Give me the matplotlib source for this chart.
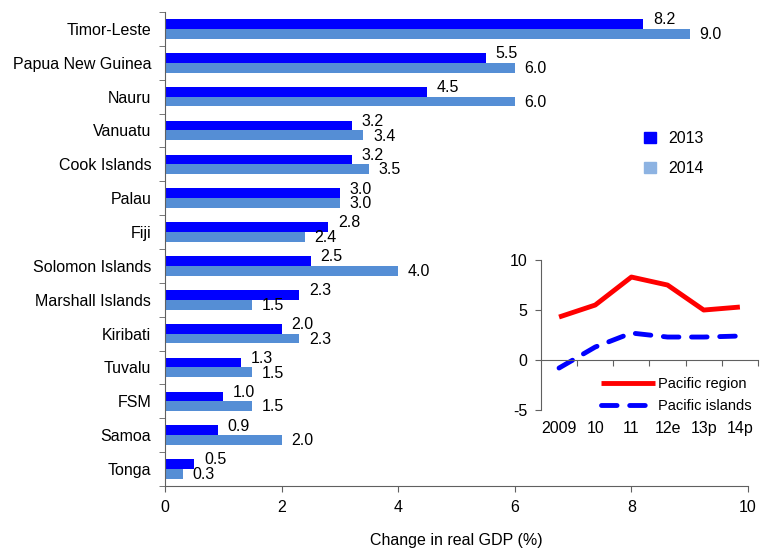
import numpy as np
import matplotlib.pyplot as plt
from matplotlib.patches import Patch

plt.rcParams['font.family'] = ['Liberation Sans', 'DejaVu Sans']
plt.rcParams['font.size'] = 11.5
plt.rcParams['axes.unicode_minus'] = False

countries = ['Timor-Leste', 'Papua New Guinea', 'Nauru', 'Vanuatu', 'Cook Islands',
             'Palau', 'Fiji', 'Solomon Islands', 'Marshall Islands', 'Kiribati',
             'Tuvalu', 'FSM', 'Samoa', 'Tonga']
gdp_2013 = [8.2, 5.5, 4.5, 3.2, 3.2, 3.0, 2.8, 2.5, 2.3, 2.0, 1.3, 1.0, 0.9, 0.5]
gdp_2014 = [9.0, 6.0, 6.0, 3.4, 3.5, 3.0, 2.4, 4.0, 1.5, 2.3, 1.5, 1.5, 2.0, 0.3]

years = ['2009', '10', '11', '12e', '13p', '14p']
pacific_region = [4.3, 5.5, 8.3, 7.5, 5.0, 5.3]
pacific_islands = [-0.8, 1.3, 2.7, 2.3, 2.3, 2.4]

c2013 = '#0000FF'
c2014 = '#558ED5'
axis_grey = '#606060'

fig = plt.figure(figsize=(7.63, 5.5), dpi=100)
ax = fig.add_axes([0.2163, 0.1164, 0.7641, 0.8618])

y = np.arange(len(countries))
h = 0.29
ax.barh(y - h / 2, gdp_2013, height=h, color=c2013)
ax.barh(y + h / 2, gdp_2014, height=h, color=c2014)

for yi, v in zip(y, gdp_2013):
    ax.annotate(f'{v:.1f}', (v, yi - h / 2), xytext=(7, 3), textcoords='offset points',
                ha='left', va='center')
for yi, v in zip(y, gdp_2014):
    ax.annotate(f'{v:.1f}', (v, yi + h / 2), xytext=(7, -0.5), textcoords='offset points',
                ha='left', va='center')

ax.set_xlim(0, 10)
ax.set_ylim(len(countries) - 0.5, -0.5)
ax.set_xticks(range(0, 11, 2))
ax.set_yticks(y)
ax.set_yticklabels(countries)
ax.set_yticks(np.arange(-0.5, len(countries)), minor=True)
ax.tick_params(axis='y', which='major', length=0, pad=10)
ax.tick_params(axis='y', which='minor', length=4, color=axis_grey, direction='out')
ax.tick_params(axis='x', length=4, color=axis_grey, pad=6)
for side in ['top', 'right']:
    ax.spines[side].set_visible(False)
for side in ['left', 'bottom']:
    ax.spines[side].set_color(axis_grey)
ax.set_xlabel('Change in real GDP (%)', labelpad=13)

handles = [Patch(color=c2013), Patch(color='#8DB3E2')]
ax.legend(handles, ['2013', '2014'], loc='upper left', bbox_to_anchor=(0.825, 0.788),
          bbox_transform=fig.transFigure, frameon=False, handlelength=0.75,
          handleheight=0.75, labelspacing=0.95, handletextpad=0.8)

# inset: regional growth
ins = fig.add_axes([0.709, 0.2545, 0.2844, 0.2727])
xs = np.arange(len(years))
ins.plot(xs, pacific_region, color='#FF0000', lw=3.5, solid_capstyle='butt',
         label='Pacific region')
ins.plot(xs, pacific_islands, color='#0000FF', lw=3.5, dashes=(3.2, 2.6),
         dash_capstyle='round', label='Pacific islands')
ins.set_xlim(-0.5, len(years) - 0.5)
ins.set_ylim(-5, 10)
ins.set_yticks([-5, 0, 5, 10])
ins.set_xticks(np.arange(0.5, len(years)))
ins.set_xticklabels([])
ins.tick_params(axis='x', length=4, color=axis_grey, direction='out')
ins.tick_params(axis='y', length=4, color=axis_grey, pad=6)
ins.spines['bottom'].set_position(('data', 0))
for side in ['top', 'right']:
    ins.spines[side].set_visible(False)
for side in ['left', 'bottom']:
    ins.spines[side].set_color(axis_grey)
for xi, lbl in zip(xs, years):
    ins.annotate(lbl, (xi, 0), xycoords=('data', 'axes fraction'), xytext=(0, -8),
                 textcoords='offset points', ha='center', va='top')
ins.legend(loc='lower right', bbox_to_anchor=(1.03, -0.11), frameon=False,
           fontsize=10.5, handlelength=3.7, handletextpad=0.2, labelspacing=0.55)

fig.savefig('out.png', dpi=100)
